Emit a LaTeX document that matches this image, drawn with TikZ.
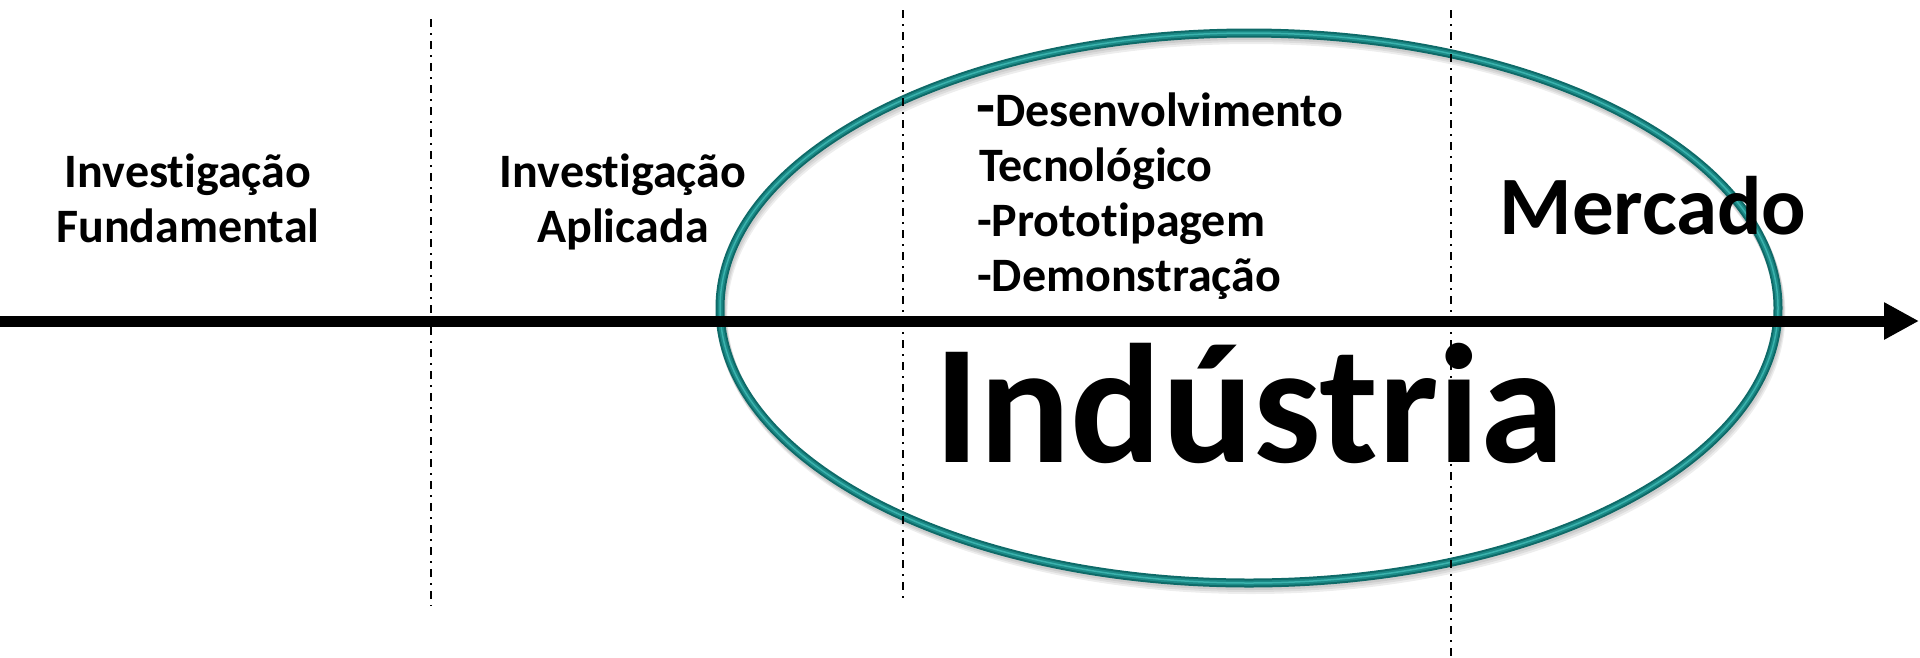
\documentclass[tikz,border=0pt]{standalone}
\usepackage{fontspec}
\setmainfont{Carlito}[Ligatures=NoCommon]
\usetikzlibrary{arrows.meta}
\definecolor{tealdark}{HTML}{0E6A68}
\definecolor{tealmid}{HTML}{1C8A87}
\definecolor{teallight}{HTML}{3AB2AD}
\begin{document}
\begin{tikzpicture}[x=1pt,y=-1pt,
  lbl/.style={font=\fontsize{48}{56}\selectfont\bfseries, inner sep=0pt, anchor=base},
  lst/.style={font=\fontsize{48}{56}\selectfont\bfseries, inner sep=0pt, anchor=base west},
  divider/.style={line width=2pt, dash pattern=on 7.5pt off 6.5pt on 1.5pt off 6.5pt, black},
  axisline/.style={line width=11pt, black, -{Triangle[length=35pt,width=35pt]}},
  ringshadow/.style={draw=black, line width=10pt, opacity=0.07},
]
\useasboundingbox (0,0) rectangle (1920,657);
% ellipse (with soft shadow)
\foreach \d in {2,4,6} {
  \draw[ringshadow] (1249+\d*0.4,308+\d) ellipse [x radius=529, y radius=275];
}
\draw[tealdark, line width=9pt] (1249,308) ellipse [x radius=529, y radius=275];
\draw[tealmid, line width=5pt] (1249,308) ellipse [x radius=529, y radius=275];
\draw[teallight, line width=1.5pt] (1249,308) ellipse [x radius=529, y radius=275];
% axis
\coordinate (axisstart) at (0,321);
\coordinate (axisend) at (1919,321);
\draw[axisline] (axisstart) -- (axisend);
% dividers
\coordinate (d1t) at (430.5,19);  \coordinate (d1b) at (430.5,606);
\coordinate (d2t) at (903,10);    \coordinate (d2b) at (903,598);
\coordinate (d3t) at (1451,10);   \coordinate (d3b) at (1451,657);
\draw[divider] (d1t) -- (d1b);
\draw[divider] (d2t) -- (d2b);
\draw[divider] (d3t) -- (d3b);
% texts
\node[lbl] (if1) at (188,187) {Investigação};
\node[lbl] (if2) at (188,242) {Fundamental};
\node[lbl] (ia1) at (623,187) {Investigação};
\node[lbl] (ia2) at (623,242) {Aplicada};
\node[lst] (l1) at (976,126) {{\fontsize{62}{56}\selectfont -}Desenvolvimento};
\node[lst] (l2) at (979,181) {Tecnológico};
\node[lst] (l3) at (977,236) {-Prototipagem};
\node[lst] (l4) at (977,291) {-Demonstração};
\node[font=\fontsize{83}{96}\selectfont\bfseries, inner sep=0pt, anchor=base] (merc) at (1653,234) {Mercado};
\node[font=\fontsize{170}{190}\selectfont\bfseries, inner sep=0pt, anchor=base] (ind) at (1249,462) {Indústria};
\end{tikzpicture}
\end{document}
